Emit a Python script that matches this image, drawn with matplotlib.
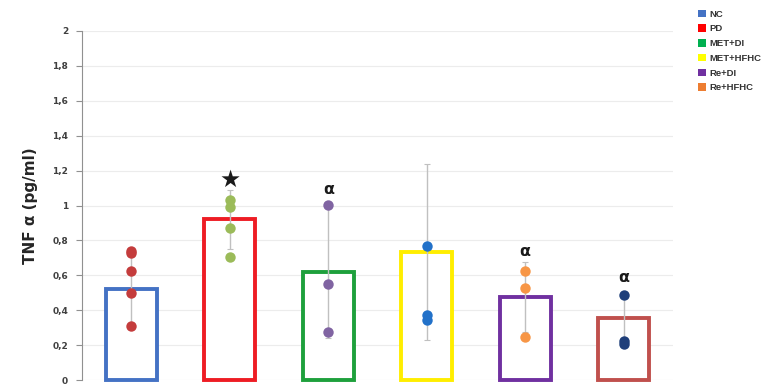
import numpy as np
import matplotlib
matplotlib.use('Agg')
import matplotlib.pyplot as plt
from matplotlib.patches import Patch
from matplotlib.ticker import FuncFormatter

# group means, spread and individual measurements (TNF alpha, pg/ml)
groups = ['NC', 'PD', 'MET+DI', 'MET+HFHC', 'Re+DI', 'Re+HFHC']
means = [0.52, 0.92, 0.62, 0.735, 0.475, 0.355]
sds = [0.20, 0.17, 0.38, 0.505, 0.20, 0.13]
points = [
    [0.74, 0.73, 0.626, 0.497, 0.311],
    [1.03, 0.99, 0.87, 0.707],
    [1.003, 0.552, 0.277],
    [0.768, 0.372, 0.344],
    [0.626, 0.525, 0.248],
    [0.485, 0.225, 0.206],
]
marks = ['', '\u2605', '\u03b1', '', '\u03b1', '\u03b1']
mark_y = [None, 1.146, 1.09, None, 0.735, 0.59]

edge_colors = ['#4472c4', '#ee1c24', '#1ea03c', '#ffee00', '#7030a0', '#c0504d']
dot_colors = ['#c43c3c', '#9bbb59', '#8064a2', '#2271c9', '#f79646', '#1f3f7a']
legend_colors = ['#4472c4', '#ff0000', '#00b050', '#ffff00', '#7030a0', '#ed7d31']

fig = plt.figure(figsize=(7.68, 3.85), dpi=100)
ax = fig.add_axes([82 / 768, 5 / 385, 591 / 768, 349 / 385])

x = np.arange(len(groups))
ax.bar(x, means, width=0.52, facecolor='white', edgecolor=edge_colors,
       linewidth=2.8, zorder=2, clip_on=False)
ax.errorbar(x, means, yerr=sds, fmt='none', ecolor='#c0c0c0', elinewidth=1,
            capsize=2, capthick=0.8, zorder=3)
for i, vals in enumerate(points):
    ax.plot([x[i]] * len(vals), vals, 'o', color=dot_colors[i],
            markersize=7.5, markeredgewidth=0, zorder=4)
    if marks[i]:
        size = 17 if marks[i] == '\u2605' else 11.5
        ax.text(x[i], mark_y[i], marks[i], ha='center', va='center',
                fontsize=size, fontweight='bold', color='#1a1a1a',
                family=['DejaVu Sans'], zorder=5)

ax.set_xlim(-0.5, len(groups) - 0.5)
ax.set_ylim(0, 2)
ax.set_yticks(np.arange(0, 2.01, 0.2))
ax.yaxis.set_major_formatter(FuncFormatter(
    lambda v, _: ('%g' % round(v, 1)).replace('.', ',')))
ax.set_xticks([])
ax.grid(axis='y', color='#ececec', linewidth=0.8, zorder=0)
ax.set_axisbelow(True)
for side in ['top', 'right', 'bottom']:
    ax.spines[side].set_visible(False)
ax.spines['left'].set_color('#909090')
ax.tick_params(axis='y', length=4, color='#909090', labelsize=6.5,
               labelcolor='#404040', pad=6)
for lbl in ax.get_yticklabels():
    lbl.set_fontweight('bold')
ax.set_ylabel('TNF \u03b1 (pg/ml)', fontsize=11, fontweight='bold',
              color='#262626', labelpad=10)

handles = [Patch(facecolor=c, edgecolor='none') for c in legend_colors]
leg = fig.legend(handles, groups, loc='upper left',
                 bbox_to_anchor=(693 / 768, 1 - 5 / 385), frameon=False,
                 handlelength=0.85, handleheight=0.85, handletextpad=0.35,
                 labelspacing=0.6, borderpad=0,
                 prop={'family': 'Liberation Sans', 'weight': 'bold', 'size': 6.8})
for t in leg.get_texts():
    t.set_color('#333333')

fig.savefig('out.png', dpi=100)
